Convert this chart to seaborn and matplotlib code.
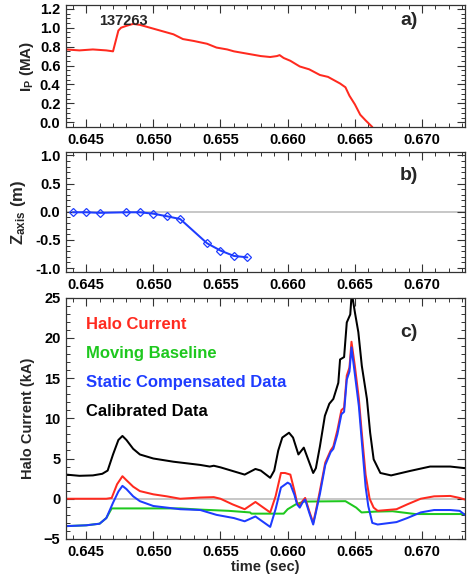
import numpy as np
import pandas as pd
import matplotlib
matplotlib.use("Agg")
import matplotlib.pyplot as plt
from matplotlib.ticker import MultipleLocator
import seaborn as sns

# ---------------- data ----------------
# panel a: plasma current
t_ip = [0.6435, 0.6445, 0.6455, 0.6465, 0.6470, 0.6472, 0.6474, 0.6476, 0.6480, 0.6485,
        0.6490, 0.6500, 0.6505, 0.6515, 0.6522, 0.6530, 0.6540, 0.6547, 0.6555, 0.6560,
        0.6572, 0.6580, 0.6587, 0.6592, 0.6594, 0.6597, 0.6602, 0.6609, 0.6616, 0.6624,
        0.6630, 0.6639, 0.6643, 0.6646, 0.6650, 0.6654, 0.6658, 0.6663]
ip = [0.77, 0.76, 0.77, 0.76, 0.75, 0.86, 0.97, 1.00, 1.02, 1.04,
      1.03, 0.99, 0.97, 0.93, 0.88, 0.86, 0.83, 0.79, 0.77, 0.75,
      0.72, 0.70, 0.69, 0.70, 0.71, 0.68, 0.65, 0.59, 0.56, 0.50,
      0.48, 0.41, 0.37, 0.28, 0.19, 0.08, 0.02, -0.05]

# panel b: magnetic axis height
t_z = [0.644, 0.645, 0.646, 0.648, 0.649, 0.650, 0.651, 0.652, 0.654, 0.655, 0.656, 0.657]
z_axis = [-0.01, -0.01, -0.02, -0.01, -0.01, -0.035, -0.08, -0.13, -0.56, -0.69, -0.785, -0.81]

# panel c: halo current signals (kA)
t_cal = [0.6435, 0.6445, 0.6455, 0.6462, 0.6466, 0.6470, 0.6474, 0.6477, 0.6480, 0.6485,
         0.6490, 0.6500, 0.6515, 0.6535, 0.6542, 0.6545, 0.6550, 0.6559, 0.6568, 0.6576,
         0.6580, 0.6587, 0.6590, 0.6593, 0.6596, 0.6601, 0.6604, 0.6608, 0.6612, 0.6619,
         0.6621, 0.6624, 0.66277, 0.6631, 0.6634, 0.66377, 0.6639, 0.6642, 0.6644, 0.66466,
         0.66477, 0.6650, 0.66526, 0.66552, 0.6659, 0.66614, 0.6664, 0.6669, 0.6677, 0.6691,
         0.6706, 0.6721, 0.6732]
cal = [3.0, 2.85, 2.9, 3.1, 3.5, 5.5, 7.3, 7.8, 7.3, 6.2,
       5.5, 5.0, 4.6, 4.2, 4.0, 4.1, 3.9, 3.45, 3.0, 3.7,
       3.5, 2.6, 3.5, 6.0, 7.6, 8.2, 7.6, 5.5, 6.35, 3.2,
       3.8, 6.5, 10.3, 11.8, 12.4, 14.4, 17.3, 17.6, 21.9, 22.9,
       25.6, 23.2, 20.7, 16.5, 12.4, 8.2, 4.9, 3.2, 2.9, 3.45,
       4.0, 4.0, 3.8]

t_halo = [0.6435, 0.6450, 0.6465, 0.6469, 0.6473, 0.6477, 0.6480, 0.6485, 0.6490, 0.6500,
          0.6510, 0.6520, 0.6535, 0.6545, 0.6550, 0.6559, 0.6568, 0.6576, 0.6587, 0.6591,
          0.6595, 0.6598, 0.6602, 0.6605, 0.6607, 0.6609, 0.6611, 0.6613, 0.6616, 0.6619,
          0.6621, 0.6624, 0.6628, 0.6632, 0.6634, 0.6637, 0.6640, 0.6642, 0.6644, 0.6646,
          0.66475, 0.6650, 0.6653, 0.6655, 0.6658, 0.6661, 0.6664, 0.6667, 0.6681, 0.6689,
          0.6699, 0.6709, 0.6721, 0.6728, 0.6732]
halo = [0.0, 0.0, 0.0, 0.1, 1.8, 2.8, 2.3, 1.5, 0.95, 0.55,
        0.3, 0.0, 0.15, 0.2, 0.0, -0.7, -1.3, -0.4, -1.7, 0.3,
        3.2, 3.2, 3.0, 1.0, -0.5, -0.9, -0.3, 0.1, -1.5, -3.0,
        -1.5, 1.0, 4.5, 6.0, 6.5, 8.5, 11.0, 11.3, 15.3, 16.3,
        19.5, 16.5, 12.4, 8.5, 3.0, 0.0, -1.1, -1.5, -1.3, -0.7,
        0.0, 0.3, 0.35, 0.1, -0.1]

t_base = [0.6435, 0.6450, 0.6460, 0.6465, 0.6469, 0.6520, 0.6535, 0.6556, 0.6572, 0.6573,
          0.6597, 0.6600, 0.6606, 0.6612, 0.6643, 0.6651, 0.6655, 0.6665, 0.6678, 0.6695,
          0.6732]
base = [-3.4, -3.3, -3.1, -2.4, -1.2, -1.2, -1.35, -1.5, -1.7, -1.85,
        -1.85, -1.3, -0.7, -0.35, -0.3, -1.1, -1.7, -1.6, -1.55, -1.9,
        -1.9]

t_static = [0.6435, 0.6450, 0.6460, 0.6465, 0.6470, 0.6474, 0.6477, 0.6480, 0.6485, 0.6490,
            0.6500, 0.6510, 0.6520, 0.6535, 0.6547, 0.6560, 0.6568, 0.6576, 0.6587, 0.6591,
            0.6595, 0.6600, 0.6602, 0.6605, 0.6607, 0.6609, 0.6611, 0.6613, 0.6616, 0.6619,
            0.6621, 0.6624, 0.6628, 0.6632, 0.6634, 0.6637, 0.6640, 0.6642, 0.6644, 0.6646,
            0.66475, 0.6650, 0.6653, 0.6655, 0.6658, 0.6660, 0.6663, 0.6667, 0.6681, 0.6689,
            0.6699, 0.6709, 0.6721, 0.6728, 0.6732]
static = [-3.4, -3.3, -3.1, -2.4, -0.5, 0.9, 1.6, 1.2, 0.3, -0.3,
          -0.9, -1.1, -1.3, -1.4, -2.0, -2.4, -2.8, -2.2, -3.5, -1.3,
          1.4, 2.0, 1.8, 0.5, -0.7, -1.1, -0.5, -0.1, -1.7, -3.2,
          -1.7, 0.6, 4.2, 5.8, 6.2, 8.0, 10.5, 10.8, 14.8, 15.8,
          18.8, 15.5, 11.5, 7.5, 1.5, -0.9, -3.0, -3.2, -2.9, -2.4,
          -1.7, -1.4, -1.4, -1.5, -2.0]

legend_labels = ["Halo Current", "Moving Baseline", "Static Compensated Data", "Calibrated Data"]
x_ticks = [0.645, 0.650, 0.655, 0.660, 0.665, 0.670]
shot = "137263"

# ---------------- style ----------------
sns.set_theme(style="ticks")
plt.rcParams["font.family"] = ["Liberation Sans", "DejaVu Sans"]
plt.rcParams["font.weight"] = "bold"
plt.rcParams["axes.labelweight"] = "bold"
plt.rcParams["mathtext.fontset"] = "custom"
plt.rcParams["mathtext.rm"] = "Liberation Sans:bold"
plt.rcParams["mathtext.it"] = "Liberation Sans:bold"
plt.rcParams["mathtext.bf"] = "Liberation Sans:bold"
plt.rcParams["mathtext.default"] = "rm"

RED = "#ff2a1f"
GREEN = "#1ec81e"
BLUE = "#1e3cff"
BLACK = "#000000"
GREY = "#bdbdbd"
LW = 1.45

fig = plt.figure(figsize=(4.70, 5.81), dpi=100)
L, W = 66 / 470, 399 / 470
ax_a = fig.add_axes([L, 454 / 581, W, 122 / 581])
ax_b = fig.add_axes([L, 309 / 581, W, 120 / 581])
ax_c = fig.add_axes([L, 42 / 581, W, 241.5 / 581])

XLIM = (0.6435, 0.6732)

def style_axis(ax, ymaj, ymin):
    ax.set_xlim(*XLIM)
    ax.set_xticks(x_ticks)
    ax.set_xticklabels([f"{v:.3f}" for v in x_ticks])
    ax.xaxis.set_minor_locator(MultipleLocator(0.001))
    ax.yaxis.set_major_locator(MultipleLocator(ymaj))
    ax.yaxis.set_minor_locator(MultipleLocator(ymin))
    ax.tick_params(which="both", direction="in", top=True, right=True,
                   colors="#333333", labelcolor="black", labelsize=10.5)
    ax.tick_params(which="major", length=6, width=0.8, pad=4)
    ax.tick_params(which="minor", length=3, width=0.7)
    for s in ax.spines.values():
        s.set_color("#333333")
        s.set_linewidth(0.9)
    for lab in ax.get_xticklabels() + ax.get_yticklabels():
        lab.set_fontweight("bold")
    ax.set_xlabel("")

# panel a
df_a = pd.DataFrame({"t": t_ip, "ip": ip})
sns.lineplot(data=df_a, x="t", y="ip", ax=ax_a, color=RED, lw=LW,
             sort=False, estimator=None)
ax_a.set_ylim(-0.05, 1.24)
style_axis(ax_a, 0.2, 0.05)
ax_a.yaxis.set_major_formatter(matplotlib.ticker.FormatStrFormatter("%.1f"))
ax_a.set_ylabel("I$_P$ (MA)", fontsize=11, fontweight="bold")
ax_a.yaxis.set_label_coords(-0.075, 0.5)
ax_a.text(0.6478, 1.07, shot, ha="center", va="center", fontsize=10.5, fontweight="bold")
ax_a.text(0.6690, 1.075, "a)", ha="center", va="center", fontsize=14, fontweight="bold")

# panel b
df_b = pd.DataFrame({"t": t_z, "z": z_axis})
ax_b.axhline(0, color=GREY, lw=1.2, zorder=0)
sns.lineplot(data=df_b, x="t", y="z", ax=ax_b, color=BLUE, lw=LW,
             marker="D", markersize=4, markerfacecolor="none",
             markeredgecolor=BLUE, markeredgewidth=0.9,
             sort=False, estimator=None)
ax_b.set_ylim(-1.07, 1.06)
style_axis(ax_b, 0.5, 0.1)
ax_b.yaxis.set_major_formatter(matplotlib.ticker.FormatStrFormatter("%.1f"))
ax_b.set_ylabel("Z$_{axis}$ (m)", fontsize=12, fontweight="bold")
ax_b.yaxis.set_label_coords(-0.095, 0.5)
ax_b.text(0.6690, 0.65, "b)", ha="center", va="center", fontsize=14, fontweight="bold")

# panel c
ax_c.axhline(0, color=GREY, lw=1.2, zorder=0)
series = [
    (t_cal, cal, BLACK),
    (t_base, base, GREEN),
    (t_halo, halo, RED),
    (t_static, static, BLUE),
]
for tt, vv, col in series:
    d = pd.DataFrame({"t": tt, "v": vv})
    sns.lineplot(data=d, x="t", y="v", ax=ax_c, color=col, lw=LW,
                 sort=False, estimator=None)
ax_c.set_ylim(-5.0, 25.0)
style_axis(ax_c, 5, 1)
ax_c.set_ylabel("Halo Current (kA)", fontsize=10.5, fontweight="bold")
ax_c.yaxis.set_label_coords(-0.078, 0.5)
ax_c.set_xlabel("time (sec)", fontsize=10.5, fontweight="bold", labelpad=1)
ax_c.text(0.6690, 20.7, "c)", ha="center", va="center", fontsize=14, fontweight="bold")

leg_colors = [RED, GREEN, BLUE, BLACK]
leg_y = [21.7, 18.1, 14.5, 10.8]
for lab, col, yy in zip(legend_labels, leg_colors, leg_y):
    ax_c.text(0.64498, yy, lab, color=col, ha="left", va="center",
              fontsize=12, fontweight="bold")

fig.savefig("out.png", dpi=100)
